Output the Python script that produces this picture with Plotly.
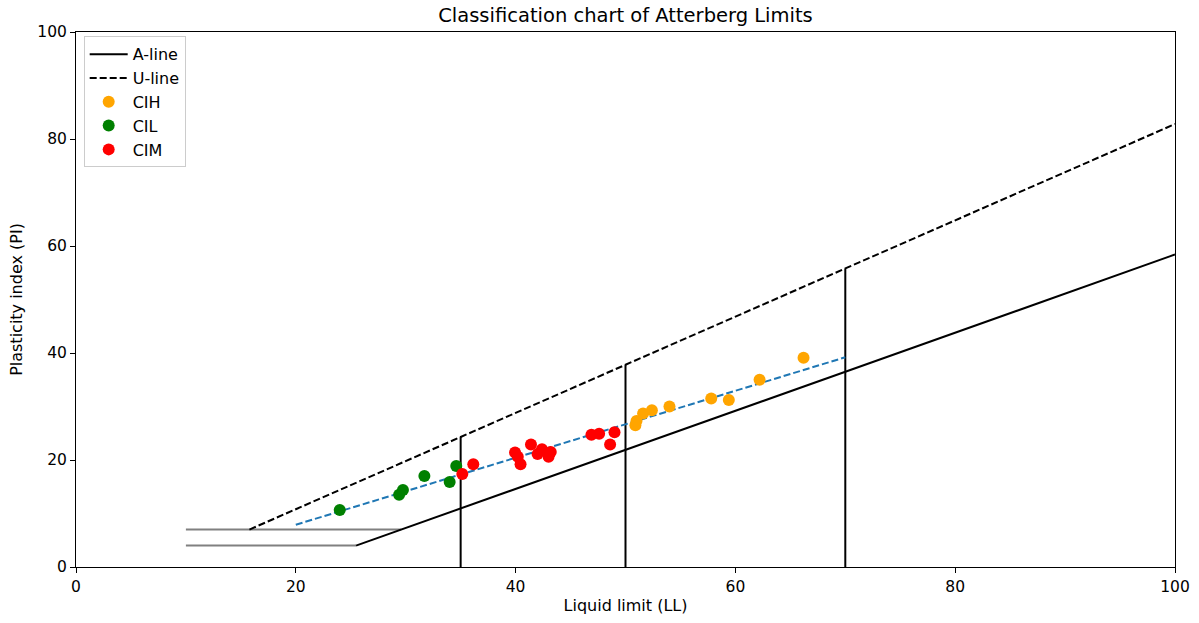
import plotly.graph_objects as go

# Data
cih_ll = [50.9, 51.0, 51.6, 52.4, 54.0, 57.8, 59.4, 62.2, 66.2]
cih_pi = [26.5, 27.3, 28.7, 29.3, 30.0, 31.5, 31.2, 35.0, 39.1]

cil_ll = [24.0, 29.4, 29.75, 31.7, 34.0, 34.6]
cil_pi = [10.65, 13.5, 14.4, 17.0, 15.9, 18.9]

cim_ll = [35.15, 36.15, 39.95, 40.2, 40.45, 41.4, 42.4, 42.0, 43.0, 43.2, 46.9, 47.6, 48.6, 49.0]
cim_pi = [17.4, 19.2, 21.4, 20.6, 19.2, 22.9, 22.0, 21.1, 20.6, 21.5, 24.7, 24.9, 22.9, 25.2]

a_line_x = [25.48, 100]
a_line_y = [4.0, 58.4]
u_line_x = [15.78, 100]
u_line_y = [7.0, 82.8]
gray_upper_x = [10, 29.59]
gray_upper_y = [7, 7]
gray_lower_x = [10, 25.48]
gray_lower_y = [4, 4]
vert_x = [35, 50, 70]
vert_top = [24.3, 37.8, 55.8]
fit_x = [20, 70]
fit_y = [7.9, 39.2]

fig = go.Figure()

fig.add_trace(go.Scatter(x=gray_upper_x, y=gray_upper_y, mode="lines",
                         line=dict(color="#808080", width=2), showlegend=False, hoverinfo="skip"))
fig.add_trace(go.Scatter(x=gray_lower_x, y=gray_lower_y, mode="lines",
                         line=dict(color="#808080", width=2), showlegend=False, hoverinfo="skip"))
for vx, vt in zip(vert_x, vert_top):
    fig.add_trace(go.Scatter(x=[vx, vx], y=[0, vt], mode="lines",
                             line=dict(color="black", width=2), showlegend=False, hoverinfo="skip"))

fig.add_trace(go.Scatter(x=a_line_x, y=a_line_y, mode="lines", name="A-line",
                         line=dict(color="black", width=2)))
fig.add_trace(go.Scatter(x=u_line_x, y=u_line_y, mode="lines", name="U-line",
                         line=dict(color="black", width=2, dash="7px,3px")))
fig.add_trace(go.Scatter(x=fit_x, y=fit_y, mode="lines",
                         line=dict(color="#1f77b4", width=2, dash="7px,3px"), showlegend=False))

marker_size = 12
fig.add_trace(go.Scatter(x=cih_ll, y=cih_pi, mode="markers", name="CIH",
                         marker=dict(color="orange", size=marker_size)))
fig.add_trace(go.Scatter(x=cil_ll, y=cil_pi, mode="markers", name="CIL",
                         marker=dict(color="green", size=marker_size)))
fig.add_trace(go.Scatter(x=cim_ll, y=cim_pi, mode="markers", name="CIM",
                         marker=dict(color="red", size=marker_size)))

axis_common = dict(
    range=[0, 100], tickvals=[0, 20, 40, 60, 80, 100],
    showgrid=False, zeroline=False, showline=True, mirror=True, automargin=False,
    linecolor="black", linewidth=1, ticks="outside", ticklen=5, tickcolor="black",
    tickfont=dict(size=15.5, color="black"),
)

fig.update_layout(
    width=1199, height=623,
    margin=dict(l=76, r=24, t=32, b=56, autoexpand=False),
    paper_bgcolor="white", plot_bgcolor="white",
    font=dict(family="DejaVu Sans", color="black"),
    title=dict(text="Classification chart of Atterberg Limits", xref="paper", x=0.5, xanchor="center",
               y=1 - 15 / 623, yanchor="middle", font=dict(size=19.5)),
    xaxis=dict(title=dict(text="Liquid limit (LL)", font=dict(size=16), standoff=5), **axis_common),
    yaxis=dict(title=dict(text="Plasticity index (PI)", font=dict(size=16), standoff=10), **axis_common),
    legend=dict(x=0.007, y=0.992, xanchor="left", yanchor="top",
                bgcolor="rgba(255,255,255,0.8)", bordercolor="#cccccc", borderwidth=1,
                font=dict(size=16), itemwidth=38, tracegroupgap=0),
    showlegend=True,
)

fig.write_html("out.html")
